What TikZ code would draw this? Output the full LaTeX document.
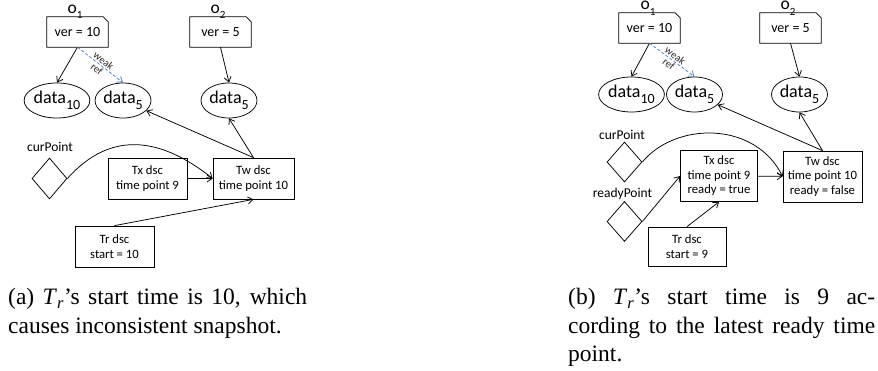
\documentclass[tikz,border=0pt]{standalone}
\usepackage{fontspec}
\setmainfont{Liberation Serif}
\newfontfamily\diag{Carlito}
\usetikzlibrary{shapes.geometric,arrows.meta,calc}
\newcommand{\dsub}[2][12]{\raisebox{-0.3em}{\fontsize{#1}{#1}\selectfont #2}}
\definecolor{weakblue}{RGB}{79,129,189}
\tikzset{
  conn/.style={line width=0.75pt,-{Straight Barb[length=5pt,width=7pt]}},
  weakconn/.style={conn,weakblue,dash pattern=on 3pt off 2pt},
  objbox/.style={minimum width=61pt,minimum height=30pt,inner sep=0pt,font=\diag\fontsize{14}{15}\selectfont},
  outline/.style={line width=0.75pt},
  dataell/.style={ellipse,draw,line width=0.75pt,minimum width=56pt,minimum height=35pt,inner sep=0pt,font=\diag\fontsize{18}{19}\selectfont},
  objlabel/.style={inner sep=0pt,anchor=base,font=\diag\fontsize{17.5}{18}\selectfont},
  ptlabel/.style={inner sep=0pt,font=\diag\fontsize{13.5}{15}\selectfont},
  pointdia/.style={diamond,draw,line width=0.75pt,minimum width=35pt,minimum height=41pt,inner sep=0pt},
  dscbox/.style={draw,line width=0.75pt,inner sep=0pt,align=center,font=\diag\fontsize{12.7}{14.5}\selectfont},
  weaklabel/.style={inner sep=0pt,align=center,font=\diag\fontsize{10.5}{11}\selectfont},
  captext/.style={inner sep=0pt,anchor=base west,font=\fontsize{23.5}{28}\selectfont}
}
\begin{document}
\begin{tikzpicture}[x=1pt,y=-1pt]
\useasboundingbox (0,0) rectangle (878,371);
% ---------------- panel (a) ----------------
\node[objlabel] (lo1a) at (75,13.5) {o\dsub[11]{1}};
\node[objbox] (o1a) at (77.5,32) {ver = 10};
\draw[outline] (o1a.south west) -- (o1a.north west) -- ($(o1a.north east)+(-5,0)$) -- ($(o1a.north east)+(0,5)$) -- (o1a.south east) -- cycle;
\node[objlabel] (lo2a) at (218,13.5) {o\dsub[11]{2}};
\node[objbox] (o2a) at (220.5,32) {ver = 5};
\draw[outline] (o2a.south west) -- (o2a.north west) -- ($(o2a.north east)+(-5,0)$) -- ($(o2a.north east)+(0,5)$) -- (o2a.south east) -- cycle;
\node[dataell] (d10a) at (57,100.5) {data\dsub[14]{10}};
\node[dataell] (d5a) at (123,100.5) {data\dsub[14]{5}};
\node[dataell] (d5b) at (229,100.5) {data\dsub[14]{5}};
\draw[conn] (o1a.south) -- (d10a.north);
\draw[weakconn] (o1a.south) -- node[weaklabel,sloped,midway,text=black!85] (wra) {weak\\ref} (d5a.north);
\draw[conn] (o2a.south) -- (d5b.north);
\node[ptlabel] (lcura) at (50,147) {curPoint};
\node[pointdia] (cura) at (49.5,178.5) {};
\node[dscbox,minimum width=79pt,minimum height=41pt] (txa) at (147.5,178.5) {Tx dsc\\time point 9};
\node[dscbox,minimum width=81pt,minimum height=41pt] (twa) at (253.5,178.5) {Tw dsc\\time point 10};
\node[dscbox,minimum width=79pt,minimum height=41pt] (tra) at (114.5,246.5) {Tr dsc\\start = 10};
\draw[conn] (txa) -- (twa);
\draw[conn] (cura.east) .. controls +(43,-48) and +(-53,-42) .. (twa.west);
\draw[conn] (twa.north) -- (d5a);
\draw[conn] (twa.north) -- (d5b.south);
\draw[conn] (tra.north) -- (twa.south);
% ---------------- panel (b) ----------------
\node[objlabel] (lo1b) at (648,10) {o\dsub[11]{1}};
\node[objbox] (o1b) at (649.5,28) {ver = 10};
\draw[outline] (o1b.south west) -- (o1b.north west) -- ($(o1b.north east)+(-5,0)$) -- ($(o1b.north east)+(0,5)$) -- (o1b.south east) -- cycle;
\node[objlabel] (lo2b) at (788,10) {o\dsub[11]{2}};
\node[objbox] (o2b) at (790.5,28) {ver = 5};
\draw[outline] (o2b.south west) -- (o2b.north west) -- ($(o2b.north east)+(-5,0)$) -- ($(o2b.north east)+(0,5)$) -- (o2b.south east) -- cycle;
\node[dataell] (d10c) at (631.5,94.5) {data\dsub[14]{10}};
\node[dataell] (d5c) at (694.5,94.5) {data\dsub[14]{5}};
\node[dataell] (d5d) at (799.5,94.5) {data\dsub[14]{5}};
\draw[conn] (o1b.south) -- (d10c.north);
\draw[weakconn] (o1b.south) -- node[weaklabel,sloped,midway,text=black!85] (wrb) {weak\\ref} (d5c.north);
\draw[conn] (o2b.south) -- (d5d.north);
\node[ptlabel] (lcurb) at (622,135) {curPoint};
\node[pointdia,minimum height=40pt] (curb) at (624.5,162) {};
\node[ptlabel] (lreadyb) at (622.5,194) {readyPoint};
\node[pointdia,minimum height=40pt] (readyb) at (624.5,221.5) {};
\node[dscbox,minimum width=77pt,minimum height=51pt] (txb) at (719,176) {Tx dsc\\time point 9\\ready = true};
\node[dscbox,minimum width=79pt,minimum height=51pt] (twb) at (822.5,176.5) {Tw dsc\\time point 10\\ready = false};
\node[dscbox,minimum width=78pt,minimum height=39pt] (trb) at (687,246.5) {Tr dsc\\start = 9};
\draw[conn] (txb) -- (twb);
\draw[conn] (curb.east) .. controls +(33,-40) and +(-28,-56) .. (twb.west);
\draw[conn] (readyb.east) -- (txb.west);
\draw[conn] (trb.north) -- (txb.south);
\draw[conn] (twb.north) -- (d5c);
\draw[conn] (twb.north) -- (d5d.south);
% ---------------- captions ----------------
\node[captext] (capa1) at (8,305) {\makebox[299pt][s]{(a) \textit{T}\textsubscript{\textit{r}}’s start time is 10, which}};
\node[captext] (capa2) at (8,333) {causes inconsistent snapshot.};
\node[captext] (capb1) at (568,305) {\makebox[307pt][s]{(b) \textit{T}\textsubscript{\textit{r}}’s start time is 9 ac-}};
\node[captext] (capb2) at (568,333) {\makebox[307pt][s]{cording to the latest ready time}};
\node[captext] (capb3) at (568,361) {point.};
\end{tikzpicture}
\end{document}
